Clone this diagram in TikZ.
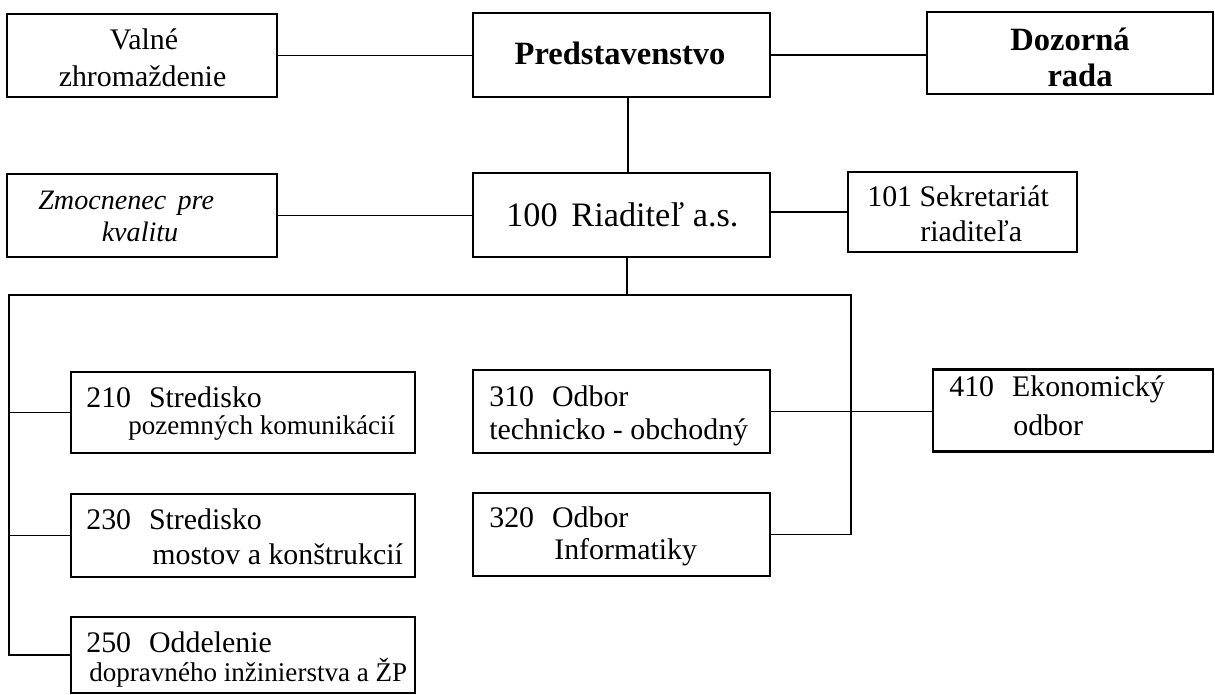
\documentclass[tikz,border=0pt]{standalone}
\usepackage{fontspec}
\setmainfont{Liberation Serif}
\newcommand{\normtxt}{\fontsize{17}{20}\selectfont}
\newcommand{\smalltxt}{\fontsize{15.4}{18}\selectfont}
\newcommand{\bigtxt}{\fontsize{19.5}{23}\selectfont}
\newcommand{\boldtxt}{\fontsize{18.5}{22}\selectfont\bfseries}
\tikzset{
  box/.style={draw, line width=0.8pt, inner sep=0pt},
  thickbox/.style={box, line width=1.6pt},
  txt/.style={inner sep=0pt, font=\normtxt},
  link/.style={line width=0.75pt}
}
\begin{document}
\begin{tikzpicture}[x=0.02cm,y=-0.02cm,cap=rect]
	\useasboundingbox (0,0) rectangle (1215,695);
	% upper part
	\node[box, minimum width=5.4cm, minimum height=1.66cm] (valne) at (142,55.5) {};
	\node[thickbox, minimum width=5.94cm, minimum height=1.68cm] (pred) at (621.5,55) {};
	\node[box, minimum width=5.72cm, minimum height=1.64cm] (dozor) at (1070,53) {};
	\node[box, minimum width=5.4cm, minimum height=1.66cm] (zmoc) at (142,215.5) {};
	\node[thickbox, minimum width=5.94cm, minimum height=1.68cm] (riad) at (621.5,215) {};
	\node[box, minimum width=4.58cm, minimum height=1.6cm] (sekr) at (962.5,212) {};
	% lower part
	\node[thickbox, minimum width=6.88cm, minimum height=1.62cm] (s210) at (243,412.5) {};
	\node[thickbox, minimum width=6.88cm, minimum height=1.66cm] (s230) at (243,535.5) {};
	\node[thickbox, minimum width=6.88cm, minimum height=1.52cm] (o250) at (243,655) {};
	\node[thickbox, minimum width=5.94cm, minimum height=1.66cm] (o310) at (621.5,411.5) {};
	\node[thickbox, minimum width=5.94cm, minimum height=1.66cm] (o320) at (621.5,534.5) {};
	\node[thickbox, minimum width=5.6cm, minimum height=1.64cm] (o410) at (1073,410.5) {};
	% texts
	\node[txt, anchor=base] (valneA) at (144,50) {Valné};
	\node[txt, anchor=base] (valneB) at (142.5,87) {zhromaždenie};
	\node[txt, anchor=base, font=\boldtxt] (predA) at (620,65) {Predstavenstvo};
	\node[txt, anchor=base, font=\boldtxt] (dozorA) at (1070,51) {Dozorná};
	\node[txt, anchor=base, font=\boldtxt] (dozorB) at (1080,87) {rada};
	\node[txt, anchor=base west, font=\fontsize{16}{19}\selectfont\itshape] (zmocA) at (38,210) {Zmocnenec\hspace{0.4em}pre};
	\node[txt, anchor=base, font=\fontsize{16}{19}\selectfont\itshape] (zmocB) at (140,242) {kvalitu};
	\node[txt, anchor=base west, font=\bigtxt] (riadA) at (506,227) {100\hspace{0.4em}Riaditeľ a.s.};
	\node[txt, anchor=base west] (sekrA) at (867,207) {101 Sekretariát};
	\node[txt, anchor=base west] (sekrB) at (920,242) {riaditeľa};
	\node[txt, anchor=base west] (s210A) at (86,408) {210\hspace{0.6em}Stredisko};
	\node[txt, anchor=base west, font=\smalltxt] (s210B) at (128,435) {pozemných komunikácií};
	\node[txt, anchor=base west] (s230A) at (86,530) {230\hspace{0.6em}Stredisko};
	\node[txt, anchor=base west] (s230B) at (152,565) {mostov a konštrukcií};
	\node[txt, anchor=base west] (o250A) at (86,653) {250\hspace{0.6em}Oddelenie};
	\node[txt, anchor=base west, font=\smalltxt] (o250B) at (89,682) {dopravného inžinierstva a ŽP};
	\node[txt, anchor=base west] (o310A) at (489,407) {310\hspace{0.6em}Odbor};
	\node[txt, anchor=base west] (o310B) at (489,440) {technicko - obchodný};
	\node[txt, anchor=base west] (o320A) at (489,528) {320\hspace{0.6em}Odbor};
	\node[txt, anchor=base west] (o320B) at (554,560) {Informatiky};
	\node[txt, anchor=base west] (o410A) at (949,397) {410\hspace{0.6em}Ekonomický};
	\node[txt, anchor=base west] (o410B) at (1013,436) {odbor};
	% connectors
	\coordinate (busL) at (9,295);
	\coordinate (busR) at (851,295);
	\draw[link] (valne.east) -- (valne.east -| pred.west);
	\draw[link] (pred.east) -- (pred.east -| dozor.west);
	\draw[link] ([xshift=0.13cm]pred.south) -- ([xshift=0.13cm]riad.north);
	\draw[link] (zmoc.east) -- (zmoc.east -| riad.west);
	\draw[link] (sekr.west -| riad.east) -- (sekr.west);
	\draw[link] ([xshift=0.11cm]riad.south) -- ([xshift=0.11cm]riad.south |- busL);
	\draw[link] (o250.west) -| (busL) -- (busR) |- (o320.east);
	\draw[link] (s210.west) -- (s210.west -| busL);
	\draw[link] (s230.west) -- (s230.west -| busL);
	\draw[link] (o310.east) -- (o310.east -| o410.west);
\end{tikzpicture}
\end{document}
